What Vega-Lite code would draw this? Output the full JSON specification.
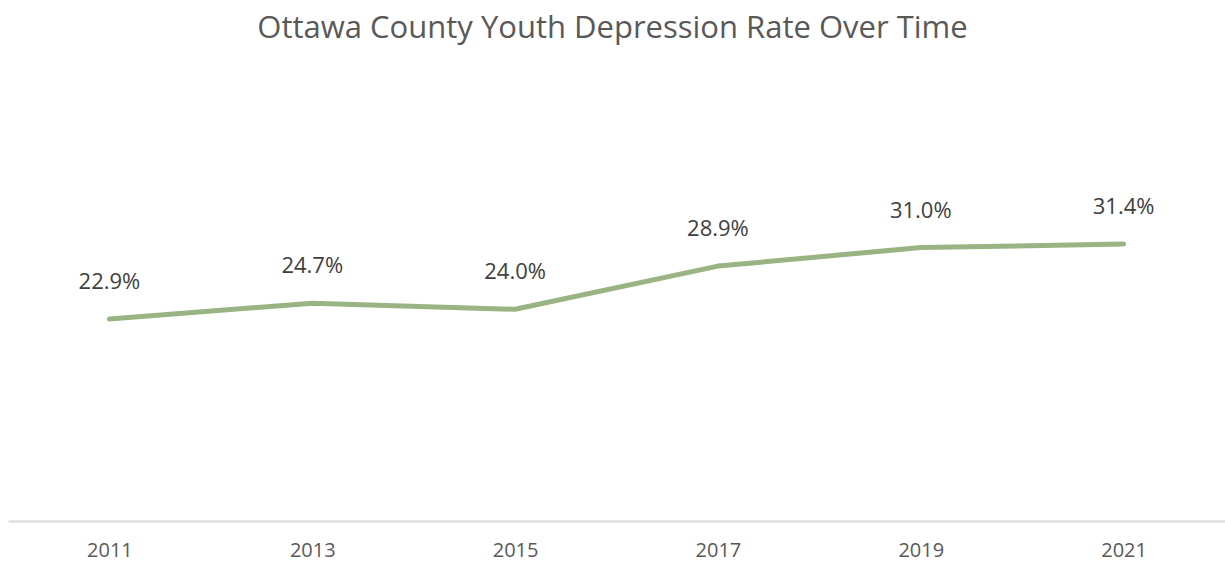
{
  "$schema": "https://vega.github.io/schema/vega-lite/v6.json",
  "autosize": {"type": "none"},
  "width": 1217,
  "height": 441,
  "padding": {"left": 8, "top": 80, "right": 0, "bottom": 43},
  "background": "white",
  "config": {"view": {"stroke": null}, "font": "Open Sans"},
  "title": {
    "text": "Ottawa County Youth Depression Rate Over Time",
    "fontSize": 31,
    "font": "Open Sans",
    "fontWeight": "normal",
    "color": "#595959",
    "anchor": "middle",
    "offset": 35,
    "dx": -4
  },
  "data": {
    "values": [
      {"year": "2011", "rate": 0.229},
      {"year": "2013", "rate": 0.247},
      {"year": "2015", "rate": 0.240},
      {"year": "2017", "rate": 0.289},
      {"year": "2019", "rate": 0.310},
      {"year": "2021", "rate": 0.314}
    ]
  },
  "encoding": {
    "x": {
      "field": "year",
      "type": "ordinal",
      "scale": {"type": "point", "padding": 0.5},
      "axis": {
        "title": null,
        "labelAngle": 0,
        "labelFontSize": 20,
        "labelColor": "#595959",
        "labelPadding": 19,
        "ticks": false,
        "domainColor": "#D9D9D9",
        "domainWidth": 2,
        "grid": false
      }
    },
    "y": {
      "field": "rate",
      "type": "quantitative",
      "scale": {"domain": [0, 0.5], "nice": false},
      "axis": null
    }
  },
  "layer": [
    {
      "mark": {"type": "line", "color": "#9AB383", "strokeWidth": 5, "strokeCap": "round", "strokeJoin": "round"}
    },
    {
      "mark": {"type": "text", "dy": -37, "fontSize": 22, "color": "#404040", "baseline": "middle"},
      "encoding": {
        "text": {"field": "rate", "type": "quantitative", "format": ".1%"}
      }
    }
  ]
}
